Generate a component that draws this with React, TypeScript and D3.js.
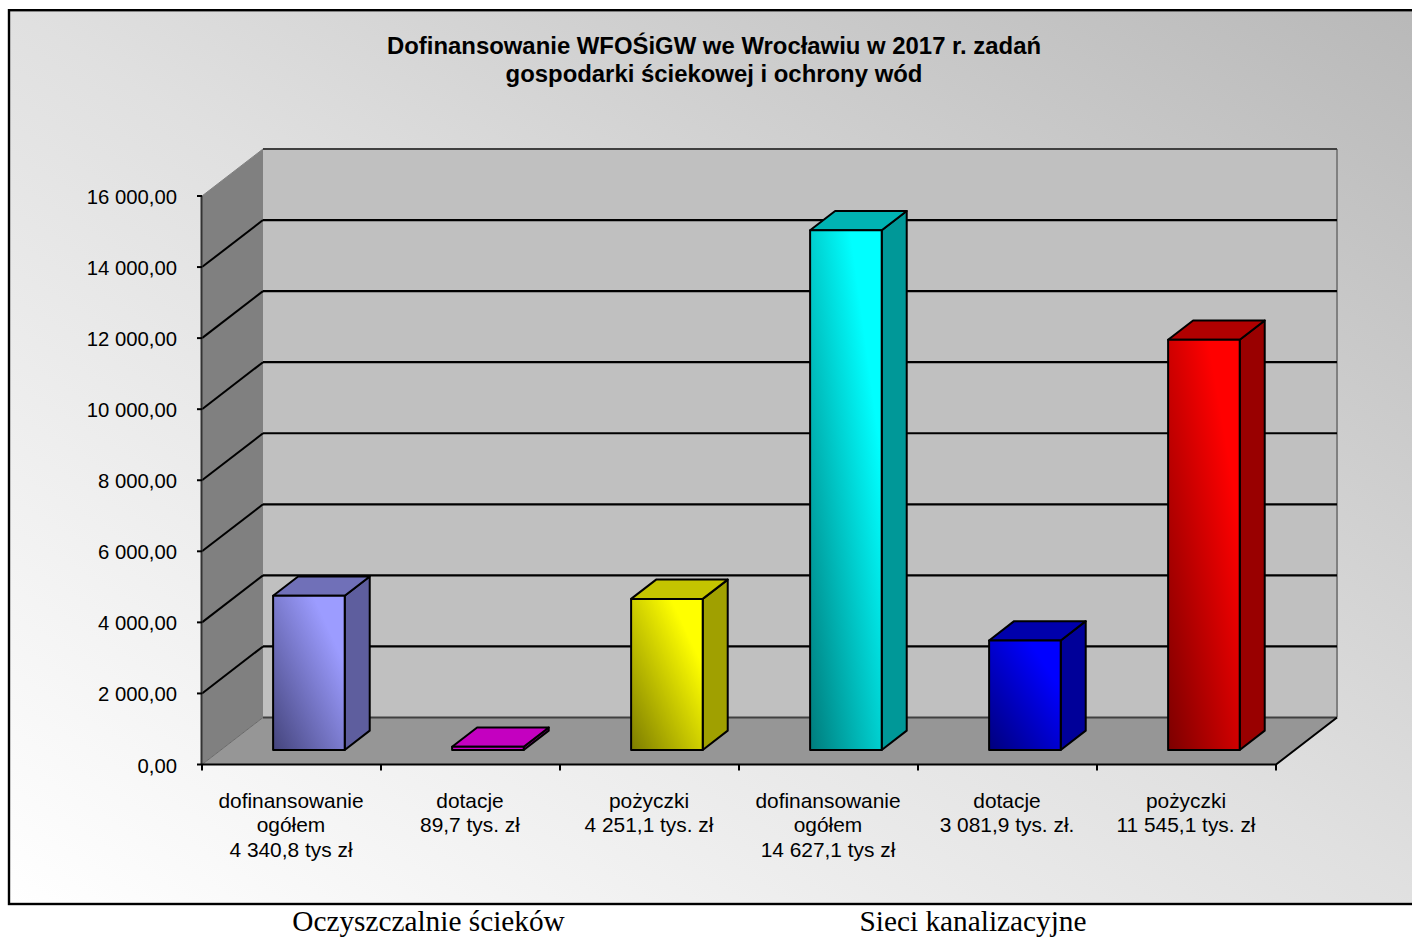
import React from 'react';
import * as d3 from 'd3';

const titleLines = ['Dofinansowanie WFOŚiGW we Wrocławiu w 2017 r. zadań', 'gospodarki ściekowej i ochrony wód'];

const categories = [
  ['dofinansowanie', 'ogółem', '4 340,8 tys zł'],
  ['dotacje', '89,7 tys. zł'],
  ['pożyczki', '4 251,1 tys. zł'],
  ['dofinansowanie', 'ogółem', '14 627,1 tys zł'],
  ['dotacje', '3 081,9 tys. zł.'],
  ['pożyczki', '11 545,1 tys. zł'],
];
const values = [4340.8, 89.7, 4251.1, 14627.1, 3081.9, 11545.1];
const yTicks = [0, 2000, 4000, 6000, 8000, 10000, 12000, 14000, 16000];

// front, side, top colours of every bar
const frontLight = ['#9c9cff', '#cc00cc', '#ffff00', '#00ffff', '#0000ff', '#ff0000'];
const frontDark = ['#44447c', '#cc00cc', '#7c7c00', '#007c7c', '#00007c', '#7c0000'];
const sideColors = ['#5e5e9e', '#880088', '#a0a000', '#009898', '#000099', '#990000'];
const topColors = ['#7070b8', '#c400c0', '#c4c400', '#00b3b3', '#0000ac', '#b00000'];

const captions = [
  { text: 'Oczyszczalnie ścieków', cx: 428.5 },
  { text: 'Sieci kanalizacyjne', cx: 973 },
];

const width = 1412;
const height = 937;
const depthX = 61;
const depthY = 47;
const left = 202;
const right = 1276;

const x = d3.scaleBand<number>().domain(d3.range(6)).range([left, right]);
const xBar = d3
  .scaleBand<number>()
  .domain(d3.range(6))
  .range([left - 1.5, right - 1.5])
  .paddingInner(0.6)
  .paddingOuter(0.3);
const y = d3.scaleLinear().domain([0, 16000]).range([764.5, 196]);

const fmtLocale = d3.formatLocale({ decimal: ',', thousands: ' ', grouping: [3], currency: ['', ''] });
const fmt = fmtLocale.format(',.2f');

const line = d3.line();
const poly = (pts: [number, number][]) => line(pts) + 'Z';

const Bar = ({ i }: { i: number }) => {
  const v = values[i];
  const x0 = xBar(i)! + 0.31 * depthX;
  const x1 = x0 + xBar.bandwidth();
  const dx = 0.41 * depthX;
  const dy = 0.41 * depthY;
  const yBase = y(0) - 0.31 * depthY;
  const yTop = yBase - (y(0) - y(v));
  return (
    <g stroke="#000" strokeWidth={2} strokeLinejoin="round">
      <path d={poly([[x1, yBase], [x1 + dx, yBase - dy], [x1 + dx, yTop - dy], [x1, yTop]])} fill={sideColors[i]} />
      <path d={poly([[x0, yTop], [x1, yTop], [x1 + dx, yTop - dy], [x0 + dx, yTop - dy]])} fill={topColors[i]} />
      <rect x={x0} y={yTop} width={x1 - x0} height={yBase - yTop} fill={`url(#bar${i})`} />
    </g>
  );
};

export default function App() {
  const x0 = left;
  const x1 = right;
  const y0 = y(0);
  const yMax = y(16000);
  return (
    <svg width={width} height={height} style={{ position: 'absolute', left: 0, top: 0 }} fontFamily="'Liberation Sans', Arial, sans-serif">
      <defs>
        <linearGradient id="bg" x1="0" y1="1" x2="1" y2="0">
          <stop offset="0" stopColor="#ffffff" />
          <stop offset="0.5" stopColor="#e0e0e0" />
          <stop offset="1" stopColor="#b8b8b8" />
        </linearGradient>
        {values.map((_, i) => (
          <linearGradient key={i} id={`bar${i}`} x1="0" y1="1" x2="1" y2="0">
            <stop offset="0" stopColor={frontDark[i]} />
            <stop offset="0.78" stopColor={frontLight[i]} />
          </linearGradient>
        ))}
      </defs>

      <rect x={0} y={0} width={width} height={height} fill="#fff" />
      <rect x={9} y={10.2} width={width + 10} height={893.8} fill="url(#bg)" stroke="#000" strokeWidth={2.4} />

      {titleLines.map((t, i) => (
        <text key={t} x={714} y={54 + i * 28} textAnchor="middle" fontSize={23.9} fontWeight="bold" fill="#000">
          {t}
        </text>
      ))}

      {/* walls and floor */}
      <path d={poly([[x0 + depthX, yMax - depthY], [x1 + depthX, yMax - depthY], [x1 + depthX, y0 - depthY], [x0 + depthX, y0 - depthY]])} fill="#c0c0c0" />
      <path d={poly([[x0, yMax], [x0 + depthX, yMax - depthY], [x0 + depthX, y0 - depthY], [x0, y0]])} fill="#808080" />
      <path d={poly([[x0, y0], [x0 + depthX, y0 - depthY], [x1 + depthX, y0 - depthY], [x1, y0]])} fill="#969696" />
      <path d={`M${x1 + depthX},${yMax - depthY}V${y0 - depthY}`} stroke="#808080" strokeWidth={2} fill="none" />
      <path d={`M${x0},${yMax}L${x0 + depthX},${yMax - depthY}`} stroke="#808080" strokeWidth={1} fill="none" />
      <path d={`M${x0},${y0}L${x0 + depthX},${y0 - depthY}`} stroke="#6a6a6a" strokeWidth={1} fill="none" />

      {/* gridlines */}
      {yTicks.map((t) => {
        const yy = y(t);
        const edge = t === 0 || t === 16000;
        return (
          <g key={t} fill="none">
            <path d={`M${x0 + depthX},${yy - depthY}H${x1 + depthX}`} stroke={edge ? '#404040' : '#000'} strokeWidth={2.2} />
            {!edge && <path d={`M${x0},${yy}L${x0 + depthX},${yy - depthY}`} stroke="#000" strokeWidth={2} />}
          </g>
        );
      })}

      {values.map((_, i) => (
        <Bar key={i} i={i} />
      ))}

      {/* axes */}
      <path d={`M${x0 - 0.5},${yMax}V${y0}`} stroke="#333" strokeWidth={2} fill="none" />
      <path d={`M${x0},${y0}H${x1}L${x1 + depthX},${y0 - depthY}`} stroke="#000" strokeWidth={2} fill="none" />
      {yTicks.map((t) => (
        <g key={t}>
          <path d={`M${x0 - 5},${y(t)}H${x0}`} stroke="#000" strokeWidth={2} />
          <text x={177} y={y(t) + 8} textAnchor="end" fontSize={20.3} fill="#000">
            {fmt(t)}
          </text>
        </g>
      ))}
      {d3.range(7).map((i) => {
        const xx = i < 6 ? x(i)! : right;
        return <path key={i} d={`M${xx},${y0}V${y0 + 6}`} stroke="#000" strokeWidth={2} />;
      })}
      {categories.map((lines, i) => (
        <text key={i} textAnchor="middle" fontSize={20.9} fill="#000">
          {lines.map((l, j) => (
            <tspan key={j} x={x(i)! + x.bandwidth() / 2 - 0.5} y={807.5 + j * 24.5}>
              {l}
            </tspan>
          ))}
        </text>
      ))}

      {captions.map((c) => (
        <text key={c.text} x={c.cx} y={930.5} textAnchor="middle" fontSize={29.3} fontFamily="'Liberation Serif', 'Times New Roman', serif" fill="#000">
          {c.text}
        </text>
      ))}
    </svg>
  );
}
